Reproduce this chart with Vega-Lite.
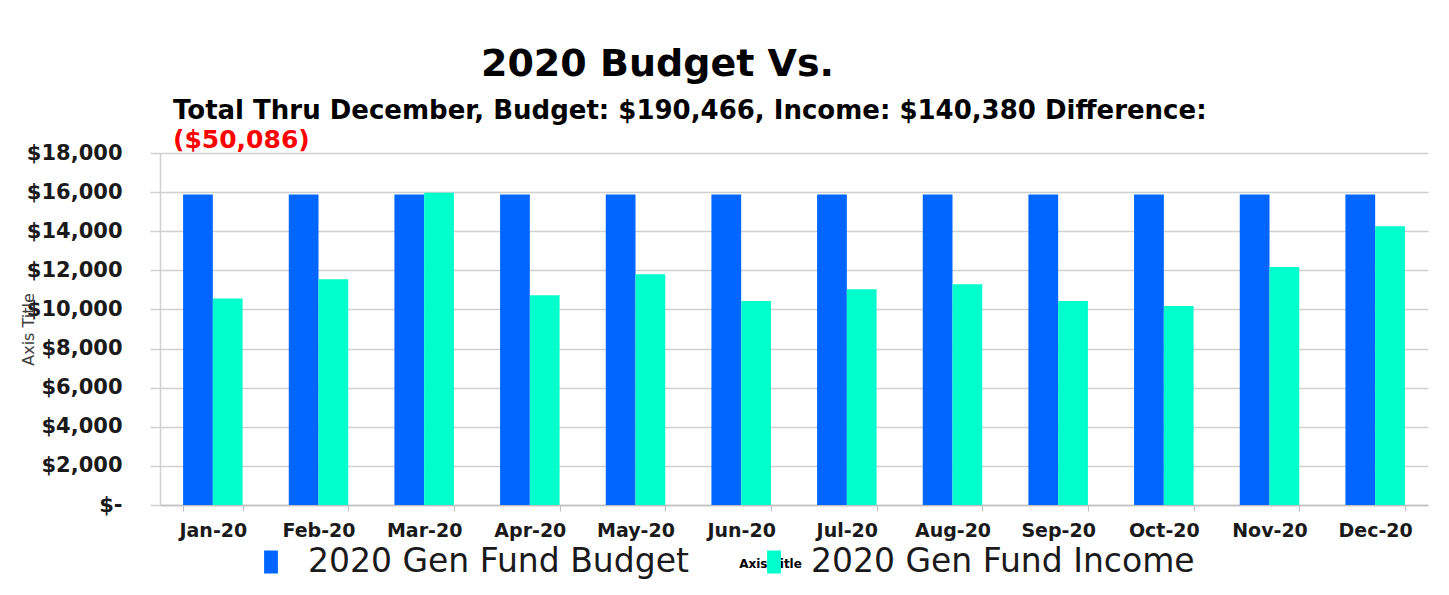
{
  "$schema": "https://vega.github.io/schema/vega-lite/v6.json",
  "width": 1268,
  "height": 352,
  "autosize": {"type": "none"},
  "padding": {"left": 160, "top": 153, "right": 21, "bottom": 90},
  "background": "white",
  "config": {
    "view": {"stroke": null},
    "font": "DejaVu Sans"
  },
  "title": {
    "text": "Total Thru December, Budget: $190,466, Income: $140,380 Difference:",
    "subtitle": "($50,086)",
    "anchor": "start",
    "frame": "group",
    "dx": 13,
    "dy": 112,
    "font": "DejaVu Sans",
    "fontSize": 26,
    "fontWeight": "bold",
    "color": "#000000",
    "subtitleFont": "DejaVu Sans",
    "subtitleFontSize": 25,
    "subtitleFontWeight": "bold",
    "subtitleColor": "#FF0000",
    "subtitlePadding": 4
  },
  "data": {
    "values": [
      {"month": "Jan-20", "series": "2020 Gen Fund Budget", "amount": 15872},
      {"month": "Jan-20", "series": "2020 Gen Fund Income", "amount": 10560},
      {"month": "Feb-20", "series": "2020 Gen Fund Budget", "amount": 15872},
      {"month": "Feb-20", "series": "2020 Gen Fund Income", "amount": 11540},
      {"month": "Mar-20", "series": "2020 Gen Fund Budget", "amount": 15872},
      {"month": "Mar-20", "series": "2020 Gen Fund Income", "amount": 15970},
      {"month": "Apr-20", "series": "2020 Gen Fund Budget", "amount": 15872},
      {"month": "Apr-20", "series": "2020 Gen Fund Income", "amount": 10730},
      {"month": "May-20", "series": "2020 Gen Fund Budget", "amount": 15872},
      {"month": "May-20", "series": "2020 Gen Fund Income", "amount": 11800},
      {"month": "Jun-20", "series": "2020 Gen Fund Budget", "amount": 15872},
      {"month": "Jun-20", "series": "2020 Gen Fund Income", "amount": 10430},
      {"month": "Jul-20", "series": "2020 Gen Fund Budget", "amount": 15872},
      {"month": "Jul-20", "series": "2020 Gen Fund Income", "amount": 11030},
      {"month": "Aug-20", "series": "2020 Gen Fund Budget", "amount": 15872},
      {"month": "Aug-20", "series": "2020 Gen Fund Income", "amount": 11290},
      {"month": "Sep-20", "series": "2020 Gen Fund Budget", "amount": 15872},
      {"month": "Sep-20", "series": "2020 Gen Fund Income", "amount": 10430},
      {"month": "Oct-20", "series": "2020 Gen Fund Budget", "amount": 15872},
      {"month": "Oct-20", "series": "2020 Gen Fund Income", "amount": 10180},
      {"month": "Nov-20", "series": "2020 Gen Fund Budget", "amount": 15872},
      {"month": "Nov-20", "series": "2020 Gen Fund Income", "amount": 12170},
      {"month": "Dec-20", "series": "2020 Gen Fund Budget", "amount": 15872},
      {"month": "Dec-20", "series": "2020 Gen Fund Income", "amount": 14250}
    ]
  },
  "layer": [
    {
      "mark": {"type": "bar"},
      "encoding": {
        "x": {
          "field": "month",
          "type": "nominal",
          "sort": null,
          "scale": {"paddingInner": 0.437, "paddingOuter": 0.2185},
          "axis": {
            "orient": "bottom",
            "title": "Axis Title",
            "titleFont": "DejaVu Sans",
            "titleFontSize": 12,
            "titleFontWeight": "bold",
            "titleColor": "#000000",
            "titleX": 610,
            "titleY": 58,
            "titleBaseline": "middle",
            "labelAngle": 0,
            "labelFont": "DejaVu Sans",
            "labelFontSize": 19,
            "labelFontWeight": "bold",
            "labelColor": "#1a1a1a",
            "labelPadding": 10,
            "labelOverlap": false,
            "tickBand": "extent",
            "ticks": true,
            "tickSize": 6,
            "tickColor": "#bfbfbf",
            "domainColor": "#bfbfbf",
            "domainWidth": 1.5,
            "grid": false
          }
        },
        "xOffset": {"field": "series", "type": "nominal"},
        "y": {
          "field": "amount",
          "type": "quantitative",
          "scale": {"domain": [0, 18000], "nice": false},
          "axis": {
            "title": "Axis Title",
            "titleFont": "DejaVu Sans",
            "titleFontSize": 16,
            "titleFontWeight": "normal",
            "titleColor": "#404040",
            "titleX": -124,
            "titleY": 176,
            "titleAngle": -90,
            "values": [0, 2000, 4000, 6000, 8000, 10000, 12000, 14000, 16000, 18000],
            "labelExpr": "datum.value == 0 ? '$-\u2007\u2007' : '$' + format(datum.value, ',')",
            "labelOverlap": false,
            "labelFont": "DejaVu Sans",
            "labelFontSize": 21,
            "labelFontWeight": "bold",
            "labelColor": "#1a1a1a",
            "labelPadding": 28,
            "tickSize": 10,
            "tickColor": "#d0d0d0",
            "tickWidth": 1.5,
            "domainColor": "#d0d0d0",
            "domainWidth": 1.5,
            "grid": true,
            "gridColor": "#d0d0d0",
            "gridWidth": 1.5
          }
        },
        "color": {
          "field": "series",
          "type": "nominal",
          "scale": {
            "domain": ["2020 Gen Fund Budget", "2020 Gen Fund Income"],
            "range": ["#0066FF", "#00FFCC"]
          },
          "legend": {
            "orient": "none",
            "legendX": 88,
            "legendY": 386,
            "direction": "horizontal",
            "title": null,
            "symbolType": "M-0.3,-0.5H0.3V0.5H-0.3Z",
            "symbolSize": 2116,
            "symbolStrokeWidth": 0,
            "labelFont": "DejaVu Sans",
            "labelFontSize": 33,
            "labelColor": "#1a1a1a",
            "labelOffset": 14,
            "columnPadding": 62,
            "labelLimit": 600
          }
        }
      }
    },
    {
      "mark": {"type": "point", "opacity": 0},
      "encoding": {
        "x": {
          "field": "month",
          "type": "nominal",
          "sort": null,
          "axis": {
            "orient": "top",
            "title": "2020 Budget Vs.",
            "titleFont": "DejaVu Sans",
            "titleFontSize": 38,
            "titleFontWeight": "bold",
            "titleColor": "#000000",
            "titleBaseline": "alphabetic",
            "titleX": 497,
            "titleY": -78,
            "labels": false,
            "ticks": false,
            "domain": false,
            "grid": false
          }
        }
      }
    }
  ],
  "resolve": {"axis": {"x": "independent"}}
}
